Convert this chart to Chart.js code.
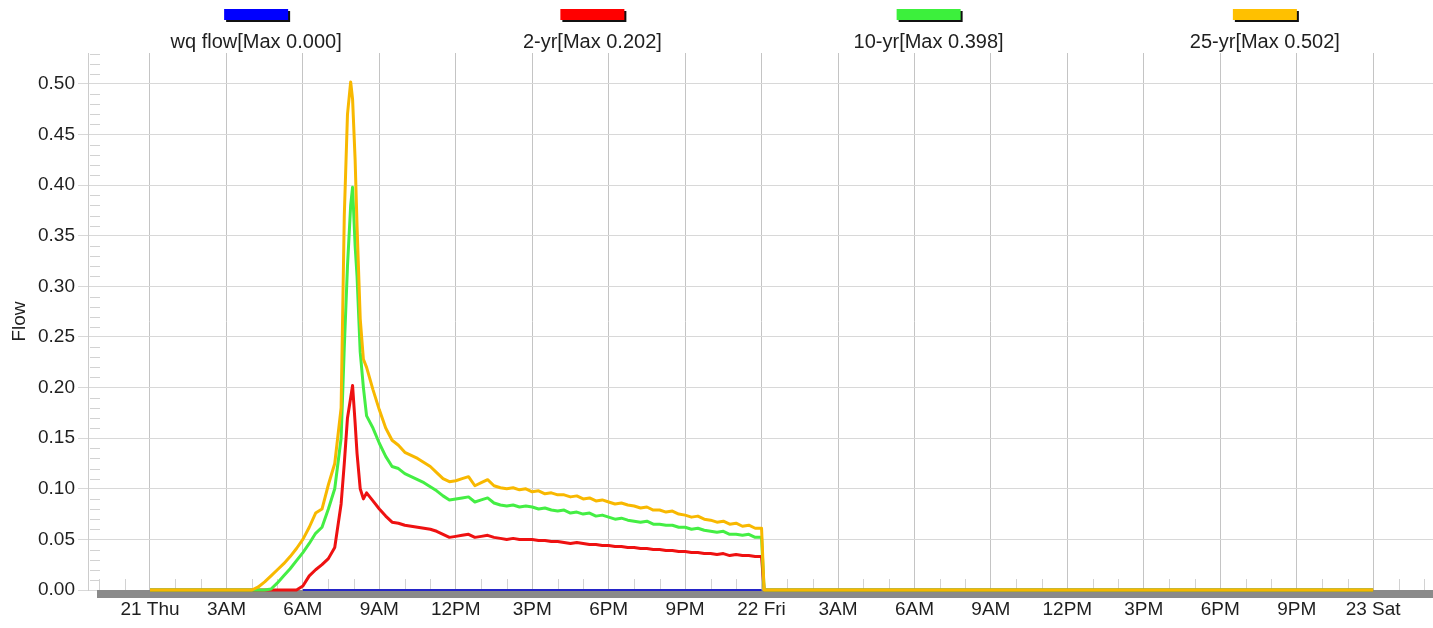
<!DOCTYPE html>
<html>
<head>
<meta charset="utf-8">
<title>Flow</title>
<script src="https://cdn.jsdelivr.net/npm/chart.js@4.4.1/dist/chart.umd.min.js"></script>
<style>
  html, body { margin: 0; padding: 0; background: #fff; }
  #wrap { width: 1433px; height: 628px; }
</style>
</head>
<body>
<div id="wrap"><canvas id="flowChart" width="1433" height="628"></canvas></div>
<script>
// hours since 21 Thu 00:00
const hours = [
  0, 3.75, 4, 4.25, 4.5, 4.75, 5, 5.25, 5.5, 5.75, 6, 6.25, 6.5, 6.75, 7, 7.25, 7.5,
  7.625, 7.75, 7.875, 7.95, 8.05, 8.125, 8.25, 8.375, 8.5,
  8.75, 9, 9.25, 9.5, 9.75, 10, 10.25, 10.5, 10.75, 11, 11.25, 11.5, 11.75,
  12, 12.25, 12.5, 12.75, 13, 13.25, 13.5, 13.75, 14, 14.25, 14.5, 14.75,
  15, 15.25, 15.5, 15.75, 16, 16.25, 16.5, 16.75, 17, 17.25, 17.5, 17.75,
  18, 18.25, 18.5, 18.75, 19, 19.25, 19.5, 19.75, 20, 20.25, 20.5, 20.75,
  21, 21.25, 21.5, 21.75, 22, 22.25, 22.5, 22.75, 23, 23.25, 23.5, 23.75,
  24, 24.1, 48
];

const flow25yr = [
  0, 0, 0, 0.003, 0.008, 0.014, 0.020, 0.026, 0.033, 0.041, 0.050, 0.062, 0.076, 0.080, 0.104, 0.125, 0.180,
  0.370, 0.470, 0.502, 0.485, 0.425, 0.360, 0.268, 0.228, 0.220,
  0.198, 0.178, 0.160, 0.148, 0.143, 0.136, 0.133, 0.130, 0.126, 0.122, 0.116, 0.110, 0.107,
  0.108, 0.110, 0.112, 0.103, 0.106, 0.109, 0.103, 0.101, 0.100, 0.101, 0.099, 0.100,
  0.097, 0.098, 0.095, 0.096, 0.094, 0.094, 0.092, 0.093, 0.090, 0.091, 0.088, 0.089,
  0.087, 0.085, 0.086, 0.084, 0.083, 0.081, 0.082, 0.079, 0.079, 0.077, 0.078, 0.075,
  0.074, 0.072, 0.073, 0.070, 0.069, 0.067, 0.068, 0.065, 0.066, 0.063, 0.064, 0.061,
  0.061, 0, 0
];

const flow10yr = [
  0, 0, 0, 0, 0, 0.001, 0.007, 0.014, 0.021, 0.029, 0.037, 0.046, 0.056, 0.062, 0.080, 0.100, 0.150,
  0.240, 0.320, 0.380, 0.398, 0.340, 0.310, 0.235, 0.200, 0.172,
  0.160, 0.145, 0.132, 0.122, 0.120, 0.115, 0.112, 0.109, 0.106, 0.102, 0.098, 0.093, 0.089,
  0.090, 0.091, 0.092, 0.087, 0.089, 0.091, 0.086, 0.084, 0.083, 0.084, 0.082, 0.083,
  0.082, 0.080, 0.081, 0.079, 0.078, 0.079, 0.076, 0.077, 0.075, 0.076, 0.073, 0.074,
  0.072, 0.070, 0.071, 0.069, 0.068, 0.067, 0.068, 0.065, 0.065, 0.064, 0.064, 0.062,
  0.062, 0.060, 0.061, 0.059, 0.058, 0.057, 0.058, 0.055, 0.055, 0.054, 0.055, 0.052,
  0.052, 0, 0
];

const flow2yr = [
  0, 0, 0, 0, 0, 0, 0, 0, 0, 0, 0.004, 0.014, 0.020, 0.025, 0.031, 0.042, 0.085,
  0.125, 0.170, 0.190, 0.202, 0.165, 0.135, 0.100, 0.090, 0.096,
  0.088, 0.080, 0.073, 0.067, 0.066, 0.064, 0.063, 0.062, 0.061, 0.060, 0.058, 0.055, 0.052,
  0.053, 0.054, 0.055, 0.052, 0.053, 0.054, 0.052, 0.051, 0.050, 0.051, 0.050, 0.050,
  0.050, 0.049, 0.049, 0.048, 0.048, 0.047, 0.046, 0.047, 0.046, 0.045, 0.045, 0.044,
  0.044, 0.043, 0.043, 0.042, 0.042, 0.041, 0.041, 0.040, 0.040, 0.039, 0.039, 0.038,
  0.038, 0.037, 0.037, 0.036, 0.036, 0.035, 0.036, 0.034, 0.035, 0.034, 0.034, 0.033,
  0.033, 0, 0
];

const wqHours = [6, 24];
const wqFlow = [0, 0];

const tickHours = [0, 3, 6, 9, 12, 15, 18, 21, 24, 27, 30, 33, 36, 39, 42, 45, 48];
const tickLabels = ['21 Thu', '3AM', '6AM', '9AM', '12PM', '3PM', '6PM', '9PM', '22 Fri',
  '3AM', '6AM', '9AM', '12PM', '3PM', '6PM', '9PM', '23 Sat'];
const yTicks = [0, 0.05, 0.10, 0.15, 0.20, 0.25, 0.30, 0.35, 0.40, 0.45, 0.50];

const seriesNames = ['wq flow', '2-yr', '10-yr', '25-yr'];

const fontFamily = '"Liberation Sans", Arial, sans-serif';
const textColor = '#1f1f1f';

function toPoints(xs, ys) {
  return xs.map((h, i) => ({ x: h, y: ys[i] }));
}
function maxLabel(name, ys) {
  return name + '[Max ' + Math.max(...ys).toFixed(3) + ']';
}

// minor ticks, gray time bar and the top legend
const flowDecor = {
  id: 'flowDecor',
  beforeDatasetsDraw(chart) {
    const { ctx, chartArea: a, scales: { x, y } } = chart;
    ctx.save();
    ctx.strokeStyle = '#d2d2d2';
    ctx.lineWidth = 1;
    ctx.beginPath();
    for (let k = 1; k / 100 < y.max; k++) {
      if (k % 5 === 0) continue;
      const py = Math.round(y.getPixelForValue(k / 100)) + 0.5;
      ctx.moveTo(a.left + 2, py);
      ctx.lineTo(a.left + 12, py);
    }
    for (let h = Math.ceil(x.min); h <= x.max; h++) {
      if (h % 3 === 0) continue;
      const px = Math.round(x.getPixelForValue(h)) + 0.5;
      ctx.moveTo(px, a.bottom - 11);
      ctx.lineTo(px, a.bottom);
    }
    ctx.stroke();
    ctx.fillStyle = '#8a8a8a';
    ctx.fillRect(a.left + 9, a.bottom, a.right - a.left - 9, 8);
    ctx.restore();
  },
  afterDraw(chart) {
    const { ctx, chartArea: a } = chart;
    const colW = (a.right - a.left) / 4;
    ctx.save();
    ctx.font = '20px ' + fontFamily;
    ctx.textAlign = 'center';
    ctx.textBaseline = 'middle';
    chart.data.datasets.forEach((ds, i) => {
      const cx = a.left + colW * (i + 0.5);
      ctx.fillStyle = '#111';
      ctx.fillRect(cx - 30, 11, 64, 11);
      ctx.fillStyle = ds.backgroundColor;
      ctx.fillRect(cx - 32, 9, 64, 11);
      ctx.fillStyle = textColor;
      ctx.fillText(ds.label, cx, 42);
    });
    ctx.restore();
  }
};

const ctx = document.getElementById('flowChart').getContext('2d');
new Chart(ctx, {
  type: 'line',
  data: {
    datasets: [
      {
        label: maxLabel(seriesNames[0], wqFlow),
        data: toPoints(wqHours, wqFlow),
        borderColor: '#2424c8',
        backgroundColor: '#0000ff',
        borderWidth: 2,
        order: 0
      },
      {
        label: maxLabel(seriesNames[1], flow2yr),
        data: toPoints(hours, flow2yr),
        borderColor: '#ee1111',
        backgroundColor: '#ff0000',
        borderWidth: 3,
        order: 3
      },
      {
        label: maxLabel(seriesNames[2], flow10yr),
        data: toPoints(hours, flow10yr),
        borderColor: '#44ee44',
        backgroundColor: '#3cf03c',
        borderWidth: 3,
        order: 2
      },
      {
        label: maxLabel(seriesNames[3], flow25yr),
        data: toPoints(hours, flow25yr),
        borderColor: '#f8b800',
        backgroundColor: '#ffc000',
        borderWidth: 3,
        order: 1
      }
    ]
  },
  options: {
    responsive: false,
    animation: false,
    clip: 6,
    layout: { padding: { top: 53, right: 0, left: 0, bottom: 0 } },
    elements: {
      point: { radius: 0 },
      line: { tension: 0, borderJoinStyle: 'round', fill: false }
    },
    plugins: {
      legend: { display: false },
      tooltip: { enabled: false }
    },
    scales: {
      x: {
        type: 'linear',
        min: -2.433,
        max: 50.35,
        afterFit(s) { s.height = 38; },
        afterBuildTicks(s) { s.ticks = tickHours.map(v => ({ value: v })); },
        ticks: {
          callback: (v, i) => tickLabels[i],
          font: { size: 19, family: fontFamily },
          color: textColor,
          padding: 3,
          maxRotation: 0,
          autoSkip: false
        },
        grid: { color: '#c4c4c4', tickLength: 5 },
        border: { display: false }
      },
      y: {
        min: 0,
        max: 0.5306,
        afterFit(s) { s.width = 88; },
        afterBuildTicks(s) { s.ticks = yTicks.map(v => ({ value: v })); },
        ticks: {
          callback: v => v.toFixed(2),
          font: { size: 19, family: fontFamily },
          color: textColor,
          padding: 3
        },
        grid: { color: '#d8d8d8', tickLength: 10 },
        border: { display: true, color: '#cccccc' },
        title: {
          display: true,
          text: 'Flow',
          font: { size: 19, family: fontFamily },
          color: textColor,
          padding: { top: 8, bottom: 0 }
        }
      }
    }
  },
  plugins: [flowDecor]
});
</script>
</body>
</html>
